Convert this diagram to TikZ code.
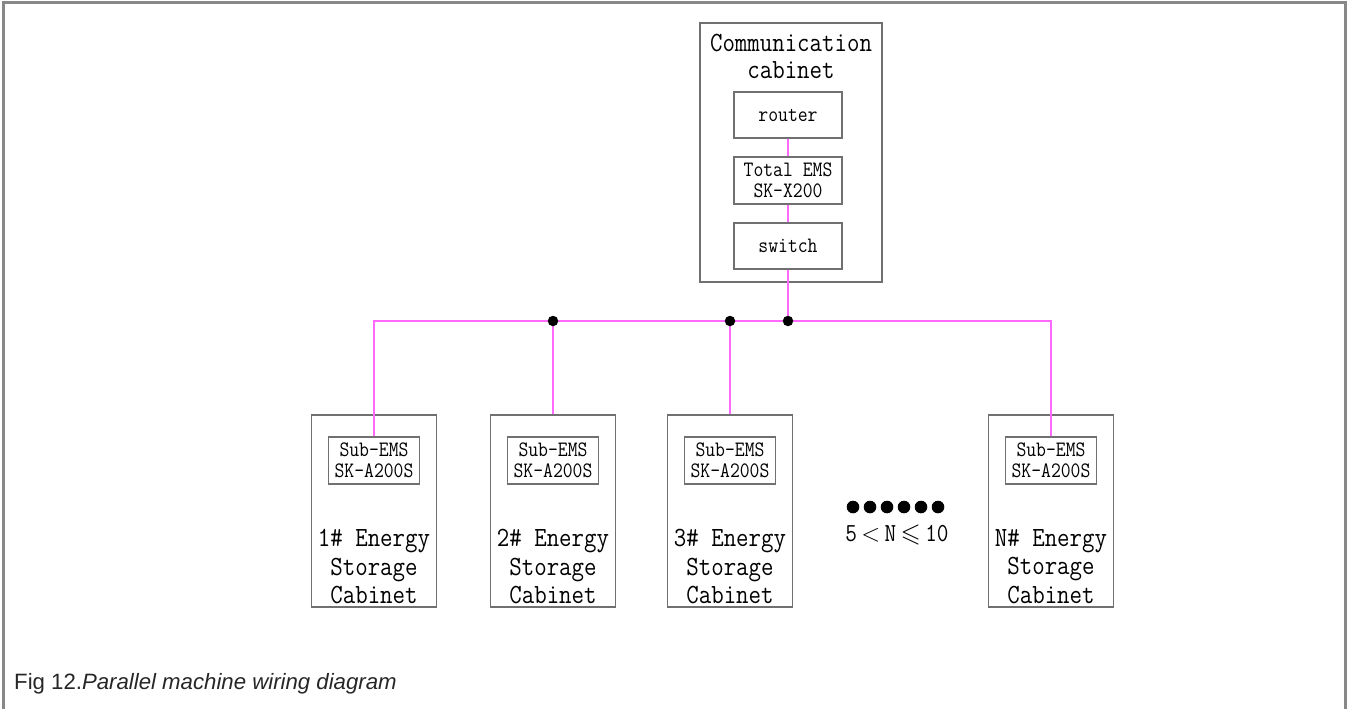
\documentclass[tikz,border=0pt]{standalone}
\usepackage{fontspec}
\usepackage{amssymb}
\usetikzlibrary{positioning}
\newfontfamily\cadfont[FakeStretch=0.87]{Latin Modern Mono}
\newfontfamily\capfont{Liberation Sans}
\definecolor{wirepink}{RGB}{255,105,255}
\definecolor{boxgray}{RGB}{112,112,112}
\definecolor{framegray}{RGB}{136,136,136}
\tikzset{
  cab/.style={draw=boxgray, line width=1.6pt, minimum width=125pt, minimum height=192pt, inner sep=0pt},
  dev/.style={draw=boxgray, line width=1.6pt, minimum width=108pt, minimum height=46pt, inner sep=0pt, align=center, font=\cadfont\fontsize{22}{21}\selectfont},
  subems/.style={dev, minimum width=91pt, minimum height=47pt},
  lbl/.style={inner sep=0pt, align=center, font=\cadfont\fontsize{27.8}{28.5}\selectfont},
  wire/.style={draw=wirepink, line width=1.8pt},
  junc/.style={circle, fill=black, inner sep=0pt, minimum size=10.5pt},
}

\begin{document}
\begin{tikzpicture}[x=1pt,y=-1pt]
  \useasboundingbox (0,0) rectangle (1349,709);
  \draw[framegray, line width=3pt] (3,709) -- (3,3) -- (1345,3) -- (1345,709);
  \node[cab, minimum width=182pt, minimum height=259pt] (cc) at (791,152.5) {};
  \node[lbl, font=\cadfont\fontsize{27.8}{27}\selectfont] (cct) at (791,56.5) {Communication\\cabinet};
  \node[dev] (rt) at (788,115) {router};
  \node[dev, minimum height=47pt] (te) at (788,180.5) {Total EMS\\SK-X200};
  \node[dev] (sw) at (788,246) {switch};
  \foreach \n/\x in {1/374, 2/553, 3/730, N/1051} {
    \node[cab] (c\n) at (\x,511) {};
    \node[subems] (s\n) at (\x,460.5) {Sub-EMS\\SK-A200S};
    \node[lbl] (l\n) at (\x,566.5) {\n\# Energy\\Storage\\Cabinet};
  }
  \coordinate (bus) at (788,321);
  \draw[wire] (rt) -- (te) -- (sw) -- (bus);
  \draw[wire] (s1.north) |- (bus) -| (sN.north);
  \draw[wire] (c2.north) -- (c2.north |- bus);
  \draw[wire] (c3.north) -- (c3.north |- bus);
  \node[junc] (j2) at (c2.north |- bus) {};
  \node[junc] (j3) at (c3.north |- bus) {};
  \node[junc] (j0) at (bus) {};
  \foreach \i in {0,...,5}
    \fill (853+\i*17,507) circle (6.3pt);
  \node[lbl, font=\cadfont\fontsize{26}{28}\selectfont] (rng) at (897,535) {5\,$<$\,N\,$\leqslant$\,10};
  \node[anchor=west, inner sep=0pt, text=black!85, font=\capfont\fontsize{22.2}{24}\selectfont] (cap) at (14,684) {Fig 12.\textit{Parallel machine wiring diagram}};
\end{tikzpicture}
\end{document}
